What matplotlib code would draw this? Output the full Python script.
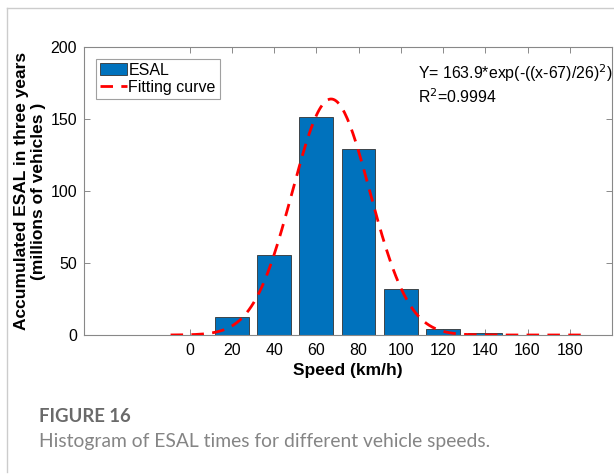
import numpy as np
import matplotlib.pyplot as plt
from matplotlib.lines import Line2D

# speed classes (km/h) and accumulated ESAL (millions)
speeds = [0, 20, 40, 60, 80, 100, 120, 140, 160, 180]
esal = [0.3, 12.3, 55.8, 151.2, 129.2, 32.0, 4.2, 1.1, 0.3, 0.1]

# fitted gaussian, parameters as printed on the chart
fit_a = 163.9
fit_mu = 67
fit_w = 26
fit_range = [-9, 188]

xticks = [0, 20, 40, 60, 80, 100, 120, 140, 160, 180]
yticks = [0, 50, 100, 150, 200]

plt.rcParams['font.family'] = ['Liberation Sans', 'DejaVu Sans']

fig = plt.figure(figsize=(6.14, 4.75), dpi=100)

# outer frame of the figure panel
fig.add_artist(Line2D([7/614, 1], [1 - 8/475, 1 - 8/475], color='#cccccc', lw=1))
fig.add_artist(Line2D([7/614, 7/614], [1 - 8/475, 1 - 472/475], color='#cccccc', lw=1))

ax = fig.add_axes([84/614, 1 - 335/475, 528/614, 288/475])

bars = ax.bar(speeds, esal, width=16, color='#0072BD', edgecolor='#333333', linewidth=0.6,
              label='ESAL', zorder=2)

xf = np.linspace(fit_range[0], fit_range[1], 300)
yf = fit_a * np.exp(-((xf - fit_mu) / fit_w) ** 2)
line, = ax.plot(xf, yf, color='#ff0000', lw=2, dashes=(4.5, 3), label='Fitting curve', zorder=3)

ax.set_xlim(-50, 200)
ax.set_ylim(0, 200)
ax.set_xticks(xticks)
ax.set_yticks(yticks)
ax.tick_params(direction='in', top=True, right=True, length=4, width=0.6,
               color='#777777', labelsize=11.5, pad=6)
ax.tick_params(axis='y', pad=5)
for s in ax.spines.values():
    s.set_color('#888888')
    s.set_linewidth(0.8)

ax.set_xlabel('Speed (km/h)', fontsize=12.5, fontweight='bold', labelpad=3)
ax.set_ylabel('Accumulated ESAL in three years\n(millions of vehicles )', fontsize=12.5,
              fontweight='bold', labelpad=3, linespacing=1.2)

leg = ax.legend([bars, line], ['ESAL', 'Fitting curve'], loc='upper left',
                bbox_to_anchor=(0.022, 0.96), borderaxespad=0,
                fontsize=11.5, frameon=True, fancybox=False, handlelength=1.7,
                handletextpad=0.1, borderpad=0.25, labelspacing=0.15)
leg.get_frame().set_edgecolor('#888888')
leg.get_frame().set_linewidth(0.8)

ax.text(0.633, 0.91, 'Y= 163.9*exp(-((x-67)/26)$^2$)', transform=ax.transAxes,
        fontsize=11.4, ha='left', va='center')
ax.text(0.633, 0.826, 'R$^2$=0.9994', transform=ax.transAxes,
        fontsize=11.4, ha='left', va='center')

fig.text(39/614, 1 - 417/475, 'FIGURE 16', fontsize=13.3, fontweight='bold',
         color='#6a6a6a', family=['Lato', 'DejaVu Sans'], ha='left', va='center')
fig.text(39/614, 1 - 441/475, 'Histogram of ESAL times for different vehicle speeds.',
         fontsize=13.9, color='#858585', family=['Lato', 'DejaVu Sans'],
         ha='left', va='center')

fig.savefig('out.png', dpi=100)
